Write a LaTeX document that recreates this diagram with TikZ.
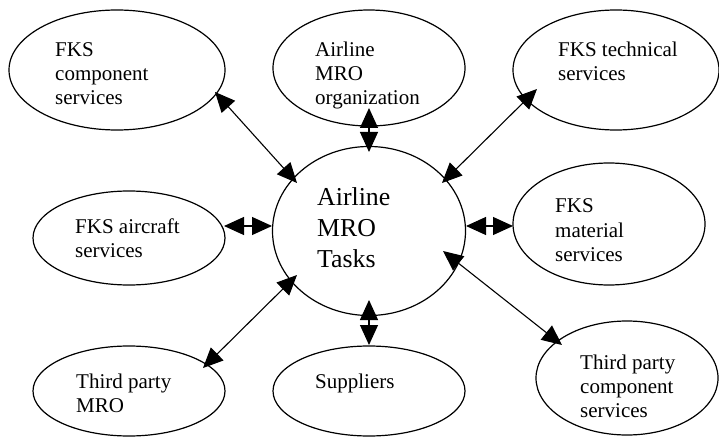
\documentclass[tikz,border=0pt]{standalone}
\usepackage{fontspec}
\setmainfont{Liberation Serif}
\usetikzlibrary{arrows.meta,shapes.geometric}
\tikzset{
  oval/.style={draw, ellipse, line width=1.2pt, inner sep=0pt, minimum width=#1},
  lbl/.style={anchor=base west, align=left, inner sep=0pt, font=\fontsize{21}{24}\selectfont},
  biglbl/.style={anchor=base west, align=left, inner sep=0pt, font=\fontsize{25.8}{31}\selectfont},
  arr/.style={line width=1.1pt, {Triangle[length=20pt,width=18pt]}-{Triangle[length=20pt,width=18pt]}}
}
\begin{document}
\begin{tikzpicture}[x=1pt,y=-1pt]
\useasboundingbox (0,0) rectangle (719,438);
% ellipses
\node[oval=216pt, minimum height=120pt] (comp) at (117,70) {};
\node[oval=192pt, minimum height=116pt] (org) at (369,68) {};
\node[oval=206pt, minimum height=120pt] (tech) at (616,70) {};
\node[oval=192pt, minimum height=94pt] (air) at (129,238) {};
\node[oval=193pt, minimum height=169pt] (tasks) at (369,231) {};
\node[oval=192pt, minimum height=122pt] (mat) at (609,224) {};
\node[oval=192pt, minimum height=90pt] (tmro) at (129,391) {};
\node[oval=192pt, minimum height=90pt] (sup) at (369,391) {};
\node[oval=182pt, minimum height=114pt] (tcomp) at (627,378) {};
% labels (anchored at the baseline of their last line)
\node[lbl] (tcompT) at (55,105) {FKS\\component\\services};
\node[lbl] (torgT) at (315,105) {Airline\\MRO\\organization};
\node[lbl] (ttechT) at (558,81) {FKS technical\\services};
\node[lbl] (tairT) at (75,257) {FKS aircraft\\services};
\node[biglbl] (ttasksT) at (317,267) {Airline\\MRO\\Tasks};
\node[lbl] (tmatT) at (555,261) {FKS\\material\\services};
\node[lbl] (ttmroT) at (76,412) {Third party\\MRO};
\node[lbl] (tsupT) at (315,388) {Suppliers};
\node[lbl] (ttcompT) at (580,417) {Third party\\component\\services};
% connectors
\draw[arr] ([shift={(98,22)}]comp.center) -- ([shift={(-72,-48)}]tasks.center);
\draw[arr] ([shift={(0,40)}]org.center) -- ([shift={(0,-79)}]tasks.center);
\draw[arr] ([shift={(-79,19)}]tech.center) -- ([shift={(73,-48)}]tasks.center);
\draw[arr] ([shift={(95,-12)}]air.center) -- ([shift={(-97,-5)}]tasks.center);
\draw[arr] ([shift={(-96,2)}]mat.center) -- ([shift={(97,-5)}]tasks.center);
\draw[arr] ([shift={(74,-23)}]tmro.center) -- ([shift={(-72,44)}]tasks.center);
\draw[arr] ([shift={(0,-46)}]sup.center) -- ([shift={(0,69)}]tasks.center);
\draw[arr] ([shift={(-65,-33)}]tcomp.center) -- ([shift={(74,20)}]tasks.center);
\end{tikzpicture}
\end{document}
